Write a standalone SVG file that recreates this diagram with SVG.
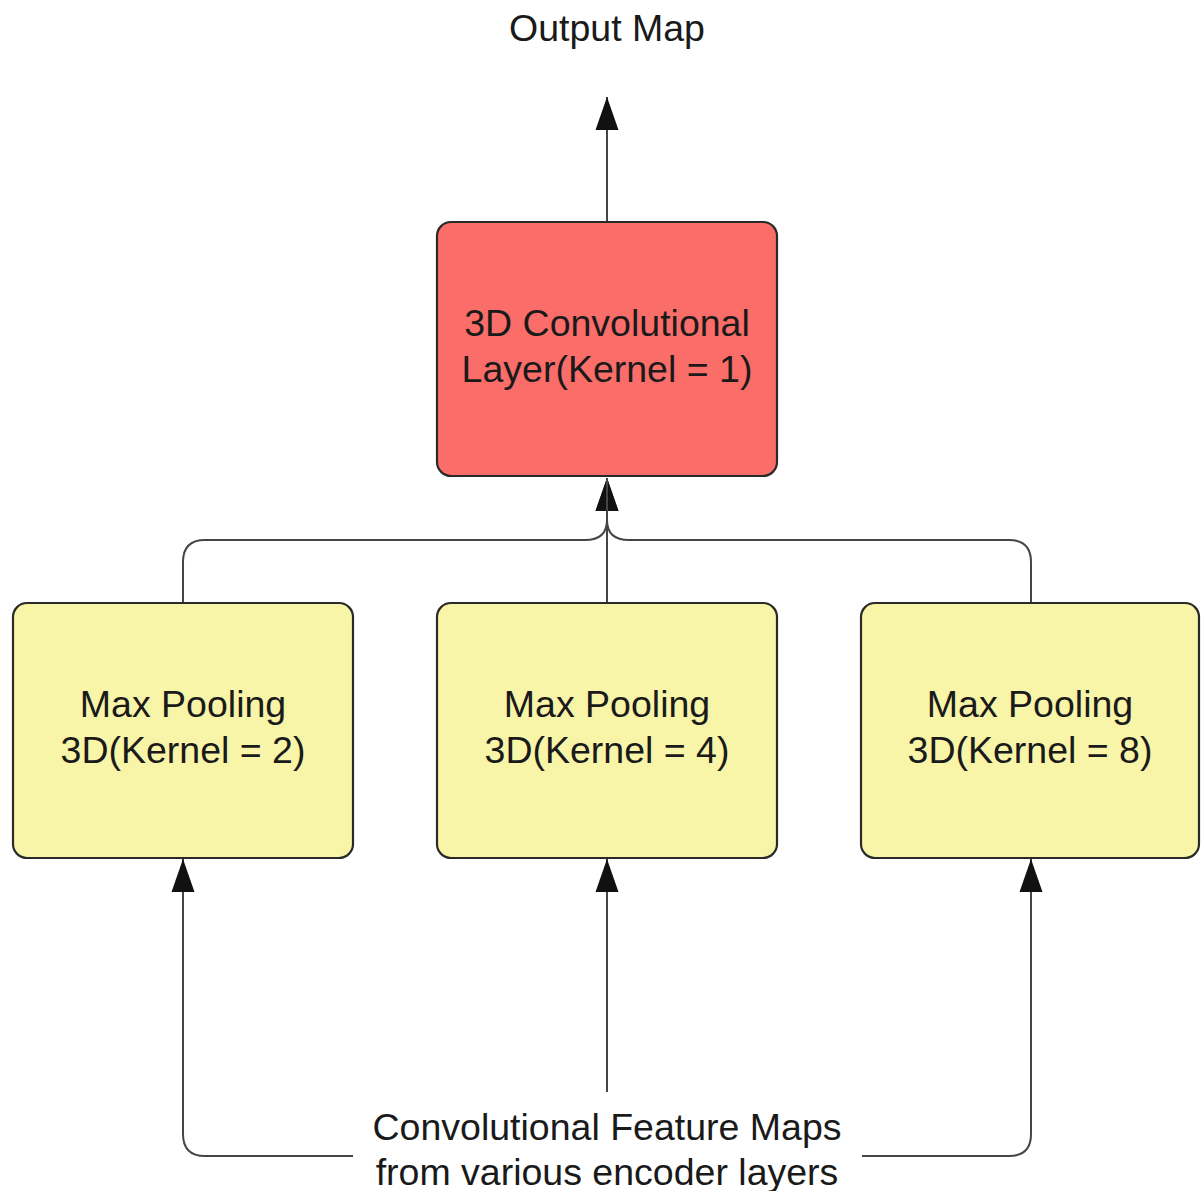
<svg xmlns="http://www.w3.org/2000/svg" width="1201" height="1191" viewBox="0 0 1201 1191">
<style>
.box{stroke:#2a2a2a;stroke-width:2.2}
.pool{fill:#f8f4a8}
.conv{fill:#fa6d69}
.lbl{font-family:"Liberation Sans",Arial,sans-serif;font-size:37.5px;fill:#1a1a1a;text-anchor:middle}
.con{fill:none;stroke:#454545;stroke-width:2}
</style>
<defs>
<marker id="arr" markerUnits="userSpaceOnUse" markerWidth="34" markerHeight="24" refX="33" refY="12" orient="auto">
<path d="M0,0.5 L33,12 L0,23.5 Z" fill="#111"/>
</marker>
</defs>
<rect width="1201" height="1191" fill="#fff"/>
<g id="connectors">
<path class="con" d="M607,222 V97" marker-end="url(#arr)"/>
<path class="con" d="M183,603 V562 Q183,540 205,540 H585 Q607,540 607,520 V478" marker-end="url(#arr)"/>
<path class="con" d="M1031,603 V562 Q1031,540 1009,540 H629 Q607,540 607,520 V478" marker-end="url(#arr)"/>
<path class="con" d="M607,603 V478"/>
<path class="con" d="M353,1156 H205 Q183,1156 183,1134 V859" marker-end="url(#arr)"/>
<path class="con" d="M607,1092 V859" marker-end="url(#arr)"/>
<path class="con" d="M862,1156 H1009 Q1031,1156 1031,1134 V859" marker-end="url(#arr)"/>
</g>
<g id="output">
<text class="lbl" x="607" y="41">Output Map</text>
</g>
<g id="conv3d">
<rect class="box conv" x="437" y="222" width="340" height="254" rx="14"/>
<text class="lbl" x="607" y="336">3D Convolutional</text>
<text class="lbl" x="607" y="382">Layer(Kernel = 1)</text>
</g>
<g id="pool2">
<rect class="box pool" x="13" y="603" width="340" height="255" rx="14"/>
<text class="lbl" x="183" y="717">Max Pooling</text>
<text class="lbl" x="183" y="763">3D(Kernel = 2)</text>
</g>
<g id="pool4">
<rect class="box pool" x="437" y="603" width="340" height="255" rx="14"/>
<text class="lbl" x="607" y="717">Max Pooling</text>
<text class="lbl" x="607" y="763">3D(Kernel = 4)</text>
</g>
<g id="pool8">
<rect class="box pool" x="861" y="603" width="338" height="255" rx="14"/>
<text class="lbl" x="1030" y="717">Max Pooling</text>
<text class="lbl" x="1030" y="763">3D(Kernel = 8)</text>
</g>
<g id="input">
<text class="lbl" x="607" y="1140">Convolutional Feature Maps</text>
<text class="lbl" x="607" y="1185">from various encoder layers</text>
</g>
</svg>
